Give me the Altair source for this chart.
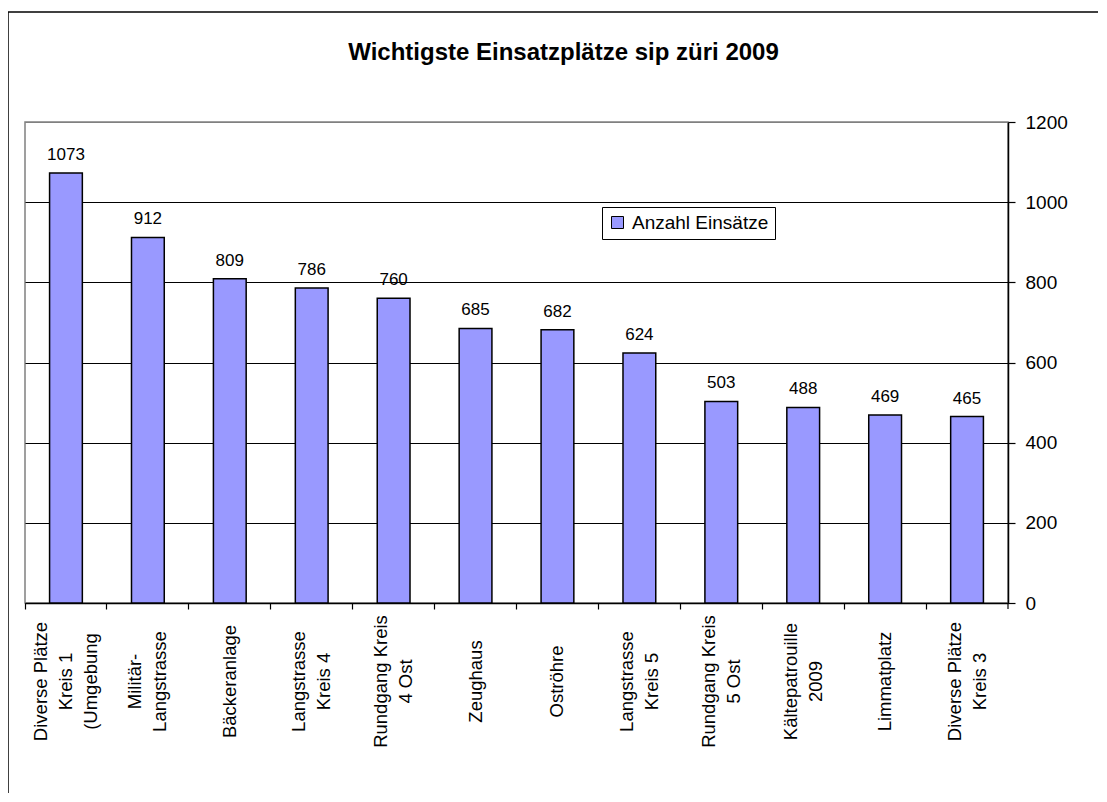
import altair as alt
import pandas as pd

title_text = "Wichtigste Einsatzplätze sip züri 2009"
series_name = "Anzahl Einsätze"
categories = [
    "Diverse Plätze\nKreis 1\n(Umgebung",
    "Militär-\nLangstrasse",
    "Bäckeranlage",
    "Langstrasse\nKreis 4",
    "Rundgang Kreis\n4 Ost",
    "Zeughaus",
    "Oströhre",
    "Langstrasse\nKreis 5",
    "Rundgang Kreis\n5 Ost",
    "Kältepatrouille\n2009",
    "Limmatplatz",
    "Diverse Plätze\nKreis 3",
]
values = [1073, 912, 809, 786, 760, 685, 682, 624, 503, 488, 469, 465]
y_ticks = [0, 200, 400, 600, 800, 1000, 1200]

df = pd.DataFrame({"category": categories, "value": values, "series": series_name})

FONT = "Liberation Sans"
LINE_H = 25
W, H = 983, 481

yscale = alt.Scale(domain=[0, 1200], nice=False, zero=True)
yaxis = alt.Axis(
    orient="right", values=y_ticks, title=None, grid=True, format="d",
    gridColor={"condition": {"test": "datum.value >= 1200", "value": "#808080"}, "value": "black"},
    gridWidth=1.2, domainColor="black", domainWidth=1.5, tickColor="black",
    tickSize=7, tickWidth=1.2, labelFontSize=19, labelColor="black",
    labelPadding=10, labelFont=FONT,
)
xscale = alt.Scale(paddingInner=0, paddingOuter=0)

x_label_axis = alt.Axis(
    orient="bottom", title=None, ticks=False, domain=True, domainColor="black",
    domainWidth=1.5, labelAngle=-90, labelAlign="center", labelBaseline="middle",
    labelPadding=78, labelFontSize=18.5, labelLineHeight=LINE_H, labelColor="black",
    labelExpr="split(datum.label, '\\n')", labelOverlap=False, labelFont=FONT,
    labelOffset={
        "condition": [
            {"test": "length(split(datum.value, '\\n')) == 3", "value": -LINE_H},
            {"test": "length(split(datum.value, '\\n')) == 2", "value": -LINE_H / 2},
        ],
        "value": 0,
    },
)
x_tick_axis = alt.Axis(
    orient="bottom", title=None, labels=False, ticks=True, domain=False,
    bandPosition=0, tickSize=6, tickColor="black", tickWidth=1.2, grid=False,
)

base = alt.Chart(df)

bars = base.mark_bar(
    width=alt.RelativeBandSize(0.4), stroke="black", strokeWidth=1.5
).encode(
    x=alt.X("category:N", sort=categories, scale=xscale, axis=x_label_axis),
    y=alt.Y("value:Q", scale=yscale, axis=yaxis),
    color=alt.Color(
        "series:N", scale=alt.Scale(range=["#9999FF"]),
        legend=alt.Legend(
            title=None, orient="none", legendX=577, legendY=85,
            fillColor="white", strokeColor="black",
            padding=6, symbolType="square", symbolSize=144,
            symbolStrokeColor="black", symbolStrokeWidth=1,
            labelFontSize=19, labelColor="black", labelFont=FONT, labelOffset=5,
        ),
    ),
)

labels = base.mark_text(
    dy=-13, baseline="alphabetic", fontSize=17, font=FONT, color="black"
).encode(
    x=alt.X("category:N", sort=categories, scale=xscale, axis=x_tick_axis),
    y=alt.Y("value:Q", scale=yscale, axis=yaxis),
    text=alt.Text("value:Q"),
)

deco = alt.Chart(alt.Data(values=[{"f": 1}]))
frame_left = deco.mark_rule(color="black", strokeWidth=1.5, clip=False).encode(
    x=alt.value(-17), y=alt.value(-110), y2=alt.value(720)
)
frame_top = deco.mark_rule(color="black", strokeWidth=1.5, clip=False).encode(
    x=alt.value(-17), x2=alt.value(1120), y=alt.value(-110)
)
end_tick = deco.mark_rule(color="black", strokeWidth=1.2, clip=False).encode(
    x=alt.value(W), y=alt.value(H), y2=alt.value(H + 6)
)

chart = alt.layer(frame_left, frame_top, end_tick, bars, labels).resolve_axis(x="independent").properties(
    width=W, height=H,
    autosize=alt.AutoSizeParams(type="none"),
    padding={"left": 17, "top": 114, "right": 90, "bottom": 190},
    title=alt.TitleParams(
        text=title_text, fontSize=24, font=FONT, fontWeight="bold", color="black",
        anchor="middle", frame="group", dx=47, offset=-73, baseline="alphabetic",
    ),
).configure_view(stroke="#808080", strokeWidth=1.5)

chart.save("out.html", embed_options={"renderer": "svg", "actions": False})
